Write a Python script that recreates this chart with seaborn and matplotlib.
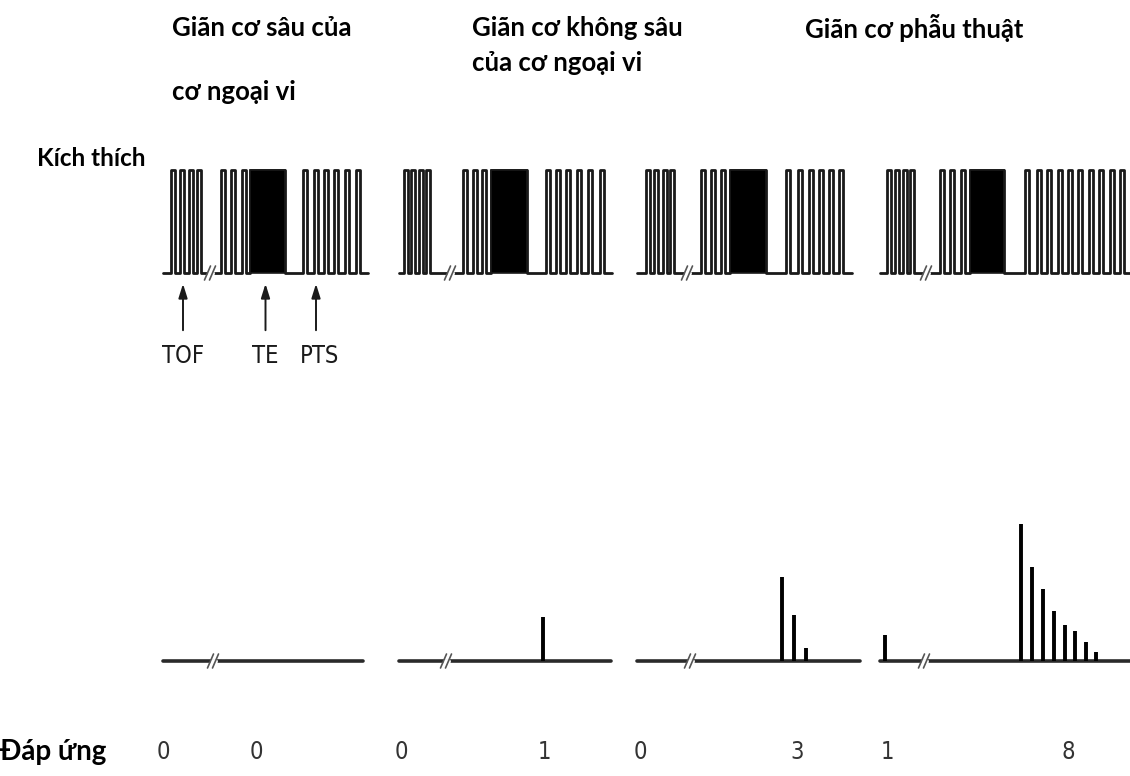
import numpy as np
import pandas as pd
import matplotlib
matplotlib.use("Agg")
import matplotlib.pyplot as plt
import seaborn as sns

# ---------------- data ----------------
titles_line1 = ["Giãn cơ sâu của", "Giãn cơ không sâu", "Giãn cơ phẫu thuật"]
titles_line2 = ["cơ ngoại vi", "của cơ ngoại vi", ""]
row_labels = ["Kích thích", "Đáp ứng"]
arrow_labels = ["TOF", "TE", "PTS"]

# stimulus timing per panel (time units from panel start)
tof_t = [[10, 19, 28, 36], [7, 14, 22, 29], [11, 19, 28, 35], [9, 17, 25, 32]]
break_t = [47, 51, 50, 46]
single_t = [[60, 70, 81], [66, 76, 85], [66, 76, 86], [62, 72, 83]]
tet_t = [[87, 122], [92, 128], [93, 129], [90, 124]]
pts_t = [[142, 153, 163, 173, 184, 195],
         [149, 159, 169, 180, 191, 203],
         [151, 163, 174, 184, 194, 204],
         [147, 159, 169, 180, 190, 200, 211, 221, 232, 242]]
stim_end = [205, 213, 215, 260]

# responses per panel: (time, amplitude)
resp_t = [[], [144], [145, 157, 169], [5, 141, 152, 163, 174, 185, 195, 206, 216]]
resp_amp = [[], [44], [84, 46, 13], [26, 137, 94, 72, 50, 36, 30, 19, 9]]
resp_break = [50, 47, 53, 44]
resp_end = [200, 212, 223, 260]
counts = [0, 0, 0, 1, 0, 3, 1, 8]

# ---------------- layout ----------------
W, H = 1130, 776
panel_x0 = [163, 399, 637, 880]
stim_base, stim_amp = 273, 103
resp_base = 661
ink = "#1a1a1a"

sns.set_theme(style="white")
plt.rcParams["font.family"] = ["Lato", "DejaVu Sans"]
narrow = dict(family=["Liberation Sans Narrow", "DejaVu Sans"], fontstretch="condensed")

fig = plt.figure(figsize=(W / 100, H / 100), dpi=100)
ax = fig.add_axes([0, 0, 1, 1])
ax.set_xlim(0, W)
ax.set_ylim(H, 0)
ax.axis("off")


def pulse_wave(times, start, end, width=4.2):
    xs, ys = [start], [0.0]
    for t in times:
        xs += [t - width / 2, t - width / 2, t + width / 2, t + width / 2]
        ys += [0.0, 1.0, 1.0, 0.0]
    xs.append(end)
    ys.append(0.0)
    return np.array(xs), np.array(ys)


def break_mark(x, y, size=7):
    ax.plot([x - 1.5, x + 1.5], [y, y], color="white", lw=3.5, zorder=4)
    for dx in (-2.5, 2.5):
        ax.plot([x + dx - 3, x + dx + 3], [y + size, y - size], color="#555555", lw=1.2,
                solid_capstyle="round", zorder=5)


for i, x0 in enumerate(panel_x0):
    # stimulus: before break
    xs, ys = pulse_wave(tof_t[i], 0, break_t[i])
    df = pd.DataFrame({"x": x0 + xs, "y": stim_base - stim_amp * ys})
    sns.lineplot(data=df, x="x", y="y", sort=False, estimator=None, ax=ax,
                 color=ink, lw=2.0, legend=False)
    # after break: singles + tetanus + pts
    t0, t1 = tet_t[i]
    xs, ys = pulse_wave(single_t[i], break_t[i], t0)
    xs2, ys2 = pulse_wave(pts_t[i], t1, stim_end[i])
    xs = np.concatenate([xs, [t0, t0, t1, t1], xs2])
    ys = np.concatenate([ys, [0, 1, 1, 0], ys2])
    df = pd.DataFrame({"x": x0 + xs, "y": stim_base - stim_amp * ys})
    sns.lineplot(data=df, x="x", y="y", sort=False, estimator=None, ax=ax,
                 color=ink, lw=2.0, legend=False)
    ax.bar(x0 + (t0 + t1) / 2, -stim_amp, width=t1 - t0, bottom=stim_base,
           color="black", edgecolor=ink, lw=1.2, zorder=3)
    break_mark(x0 + break_t[i], stim_base)

    # response baseline
    rdf = pd.DataFrame({"x": [x0, x0 + resp_end[i]], "y": [resp_base, resp_base]})
    sns.lineplot(data=rdf, x="x", y="y", ax=ax, color="#2a2a2a", lw=2.6, legend=False)
    if resp_t[i]:
        ax.vlines(x0 + np.array(resp_t[i]), resp_base,
                  resp_base - np.array(resp_amp[i]), color="black", lw=2.8, zorder=3)
    break_mark(x0 + resp_break[i], resp_base)

# arrows under first panel
arrow_t = [tof_t[0][1] + 1, (tet_t[0][0] + tet_t[0][1]) / 2 - 2, pts_t[0][1]]
for t, lab in zip(arrow_t, arrow_labels):
    x = panel_x0[0] + t
    ax.annotate("", xy=(x, 281), xytext=(x, 333),
                arrowprops=dict(arrowstyle="-|>,head_width=0.22,head_length=0.7",
                                color=ink, lw=1.4))
    ax.text(x + (4 if lab == "PTS" else 0), 356, lab, ha="center", va="center",
            fontsize=17, color=ink, **narrow)

# titles
title_fs = 18.5
title_x = [172, 472, 805]
for x, l1, l2, y2 in zip(title_x, titles_line1, titles_line2, [92, 63, 0]):
    ax.text(x, 28, l1, ha="left", va="center", fontsize=title_fs, fontweight="bold", color="black")
    if l2:
        ax.text(x, y2, l2, ha="left", va="center", fontsize=title_fs, fontweight="bold", color="black")

ax.text(37, 158, row_labels[0], ha="left", va="center", fontsize=17.5, fontweight="bold", color="black")
ax.text(0, 752, row_labels[1], ha="left", va="center", fontsize=20, fontweight="bold", color="black")

# response counts
count_x = [163, 256, 401, 544, 640, 797, 887, 1068]
for x, c in zip(count_x, counts):
    ax.text(x, 752, str(c), ha="center", va="center", fontsize=17, color="#333333", **narrow)

fig.savefig("out.png", dpi=100, facecolor="white")
